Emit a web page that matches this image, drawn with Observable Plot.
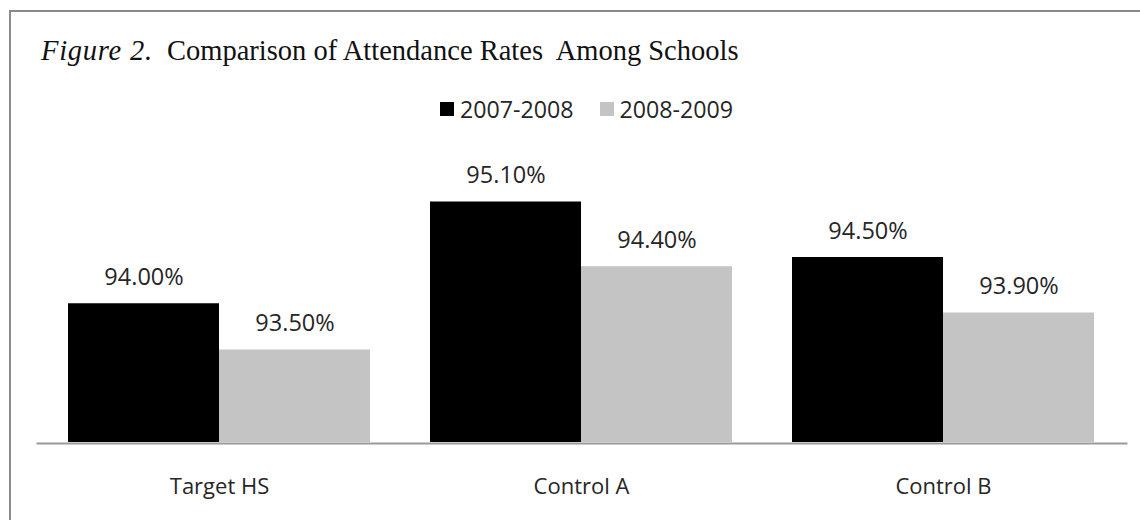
<!DOCTYPE html>
<html><head><meta charset="utf-8">
<script src="https://cdn.jsdelivr.net/npm/d3@7"></script>
<script src="https://cdn.jsdelivr.net/npm/@observablehq/plot@0.6"></script>
<style>
html,body{margin:0;padding:0;background:#fff;}
#wrap{position:relative;width:1140px;height:520px;overflow:hidden;background:#fff;}
#frame{position:absolute;left:9px;top:10px;width:1200px;height:600px;border-top:2px solid #8a8a8a;border-left:2px solid #8a8a8a;box-sizing:border-box;}
#title{position:absolute;left:41px;top:37px;font-family:"Liberation Serif","Times New Roman",serif;font-size:28.5px;line-height:28px;white-space:pre;color:#111;}
#title i{letter-spacing:0.75px;}
#legend{position:absolute;left:440px;top:98px;}
#legend .lg-swatches{font-family:"Open Sans",sans-serif !important;font-size:23.2px !important;margin:0 !important;min-height:0 !important;color:#262626 !important;}
#legend .lg-swatch{margin-right:26px !important;line-height:22px !important;}
#legend .lg-swatch > svg{margin-right:6px !important;}
#chart{position:absolute;left:0;top:130px;}
</style></head><body>
<div id="wrap"><div id="frame"></div><div id="title"></div><div id="legend"></div><div id="chart"></div></div>
<script>
const titleItalic = "Figure 2.";
const titleText = "  Comparison of Attendance Rates  Among Schools";
const schools = ["Target HS", "Control A", "Control B"];
const years = ["2007-2008", "2008-2009"];
const rates2007 = [94.0, 95.1, 94.5];
const rates2008 = [93.5, 94.4, 93.9];
const colors = ["#000000", "#c4c4c4"];
const yMin = 92.5, yMax = 95.5;

const rows = schools.flatMap((s, i) => [
  {school: s, year: years[0], rate: rates2007[i]},
  {school: s, year: years[1], rate: rates2008[i]}
]);

const t = document.getElementById("title");
const it = document.createElement("i");
it.textContent = titleItalic;
t.appendChild(it);
t.appendChild(document.createTextNode(titleText));

const leg = Plot.legend({
  color: {domain: years, range: colors},
  swatchSize: 14,
  className: "lg"
});
document.getElementById("legend").appendChild(leg);

const W = 1140, mL = 37, mR = 15;
const pIn = 0.166, pOut = 0.0856;
const step = (W - mL - mR) / (schools.length - pIn + 2 * pOut);
const outer = pOut * step;

const chart = Plot.plot({
  width: W,
  height: 390,
  marginLeft: mL,
  marginRight: mR,
  marginTop: 34.5,
  marginBottom: 78,
  style: {fontFamily: "Open Sans, sans-serif", background: "transparent", overflow: "visible", color: "#262626"},
  fx: {domain: schools, paddingInner: pIn, paddingOuter: pOut},
  x: {domain: years, padding: 0, axis: null},
  y: {domain: [yMin, yMax], axis: null},
  color: {domain: years, range: colors},
  marks: [
    Plot.barY(rows, {fx: "school", x: "year", y1: yMin, y2: "rate", fill: "year"}),
    Plot.text(rows, {fx: "school", x: "year", y: "rate", text: d => d.rate.toFixed(2) + "%", lineAnchor: "bottom", dy: -19, fontSize: 23.5, fill: "#262626"}),
    Plot.frame({anchor: "bottom", facet: "super", stroke: "#9a9a9a", strokeWidth: 2, dy: 1, insetLeft: -outer, insetRight: -outer - 1}),
    Plot.axisFx({anchor: "bottom", tickSize: 0, tickPadding: 35.4, fontSize: 22, label: null, fill: "#262626"})
  ]
});
document.getElementById("chart").appendChild(chart);
</script>
</body></html>
